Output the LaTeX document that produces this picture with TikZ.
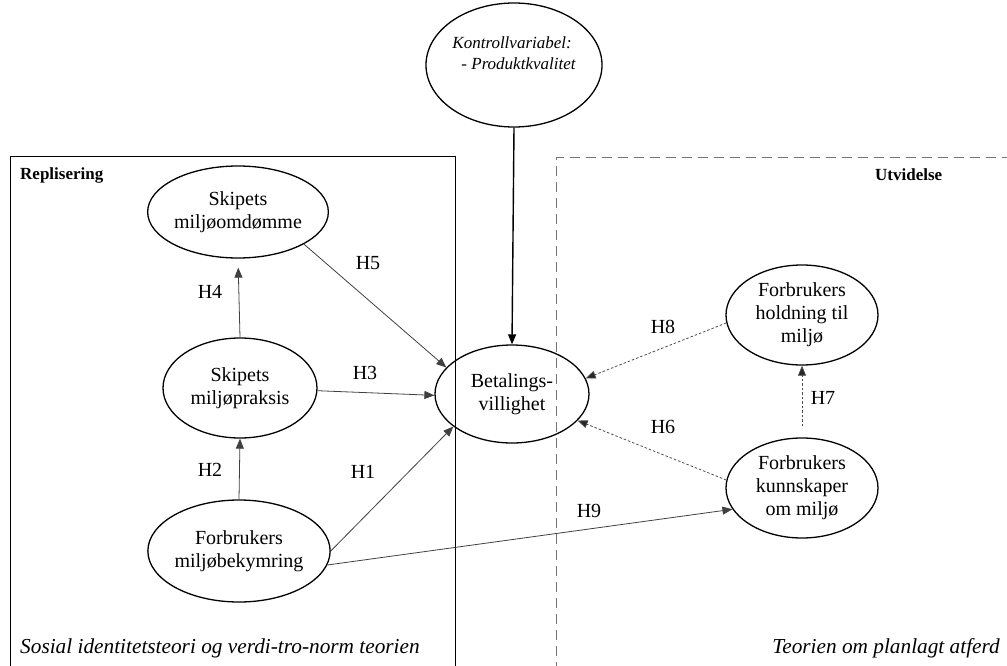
\documentclass[tikz,border=0pt]{standalone}
\usepackage{fontspec}
\setmainfont{Liberation Serif}
\usetikzlibrary{arrows.meta,shapes.geometric}
\tikzset{
  ell/.style={draw, ellipse, line width=1.3pt, inner sep=0pt, align=center,
    font=\fontsize{20}{23}\selectfont},
  conn/.style={draw=black!75, line width=0.8pt, -{Triangle[length=10pt,width=8pt]}},
  dotconn/.style={draw=black!70, line width=0.8pt, dash pattern=on 2.5pt off 2pt,
    -{Triangle[length=10pt,width=8pt,fill=black!85]}},
  hlab/.style={font=\fontsize{20}{23}\selectfont, inner sep=0pt},
  boxlab/.style={font=\fontsize{17}{20}\selectfont\bfseries, inner sep=0pt, anchor=west},
  theory/.style={font=\fontsize{21.3}{24}\selectfont\itshape, inner sep=0pt}
}
\begin{document}
\begin{tikzpicture}[x=1pt,y=-1pt]
\useasboundingbox (0,0) rectangle (1007,666);
% frames
\draw[line width=1pt] (10,672) -- (10,157) -- (455,157) -- (455,672);
\draw[line width=1pt, draw=black!55, dash pattern=on 10pt off 6pt] (556,672) -- (556,158) -- (1012,158);
\node[boxlab] (repl) at (20,175) {Replisering};
\node[boxlab] (utv) at (875,175) {Utvidelse};
\node[theory, anchor=west] (sit) at (20,648) {Sosial identitetsteori og verdi-tro-norm teorien};
\node[theory, anchor=east] (tpa) at (1000,648) {Teorien om planlagt atferd};
% nodes
\node[ell, minimum width=176pt, minimum height=124pt] (kon) at (514,65) {};
\node[inner sep=0pt, align=left, font=\fontsize{17}{21}\selectfont\itshape] (kontxt) at (514,53)
  {Kontrollvariabel:\\\hspace{9pt}- Produktkvalitet};
\node[ell, minimum width=152pt, minimum height=92pt] (omd) at (238,212) {Skipets\\miljøomdømme};
\node[ell, minimum width=154pt, minimum height=100pt] (pra) at (240,388) {Skipets\\miljøpraksis};
\node[ell, minimum width=154pt, minimum height=102pt] (fmb) at (239,551) {Forbrukers\\miljøbekymring};
\node[ell, minimum width=154pt, minimum height=98pt] (bet) at (512,394) {Betalings-\\villighet};
\node[ell, minimum width=152pt, minimum height=100pt] (hol) at (802,315) {Forbrukers\\holdning til\\miljø};
\node[ell, minimum width=152pt, minimum height=100pt] (kun) at (802,488) {Forbrukers\\kunnskaper\\om miljø};
% connectors
\draw[-{Triangle[length=10pt,width=8pt]}, line width=1.4pt] (kon.south) -- (bet.north);
\draw[conn, shorten >=9pt] (pra.north) -- (omd.south);
\draw[conn] (fmb.north) -- (pra.south);
\draw[conn] (omd.-26) -- (bet.158);
\draw[conn] (pra.-2) -- (bet.181);
\draw[conn] (fmb.0) -- (bet.209);
\draw[conn] (fmb.-9) -- (kun.197);
\draw[dotconn] (hol.186) -- (bet.12);
\draw[dotconn] (kun.174) -- (bet.-22);
\draw[dotconn, shorten <=11pt] (kun.north) -- (hol.south);
% labels
\node[hlab] (h1) at (363,472) {H1};
\node[hlab] (h2) at (210,470) {H2};
\node[hlab] (h3) at (365,373) {H3};
\node[hlab] (h4) at (210,292) {H4};
\node[hlab] (h5) at (368,263) {H5};
\node[hlab] (h6) at (663,427) {H6};
\node[hlab] (h7) at (823,398) {H7};
\node[hlab] (h8) at (663,327) {H8};
\node[hlab] (h9) at (589,511) {H9};
\end{tikzpicture}
\end{document}
